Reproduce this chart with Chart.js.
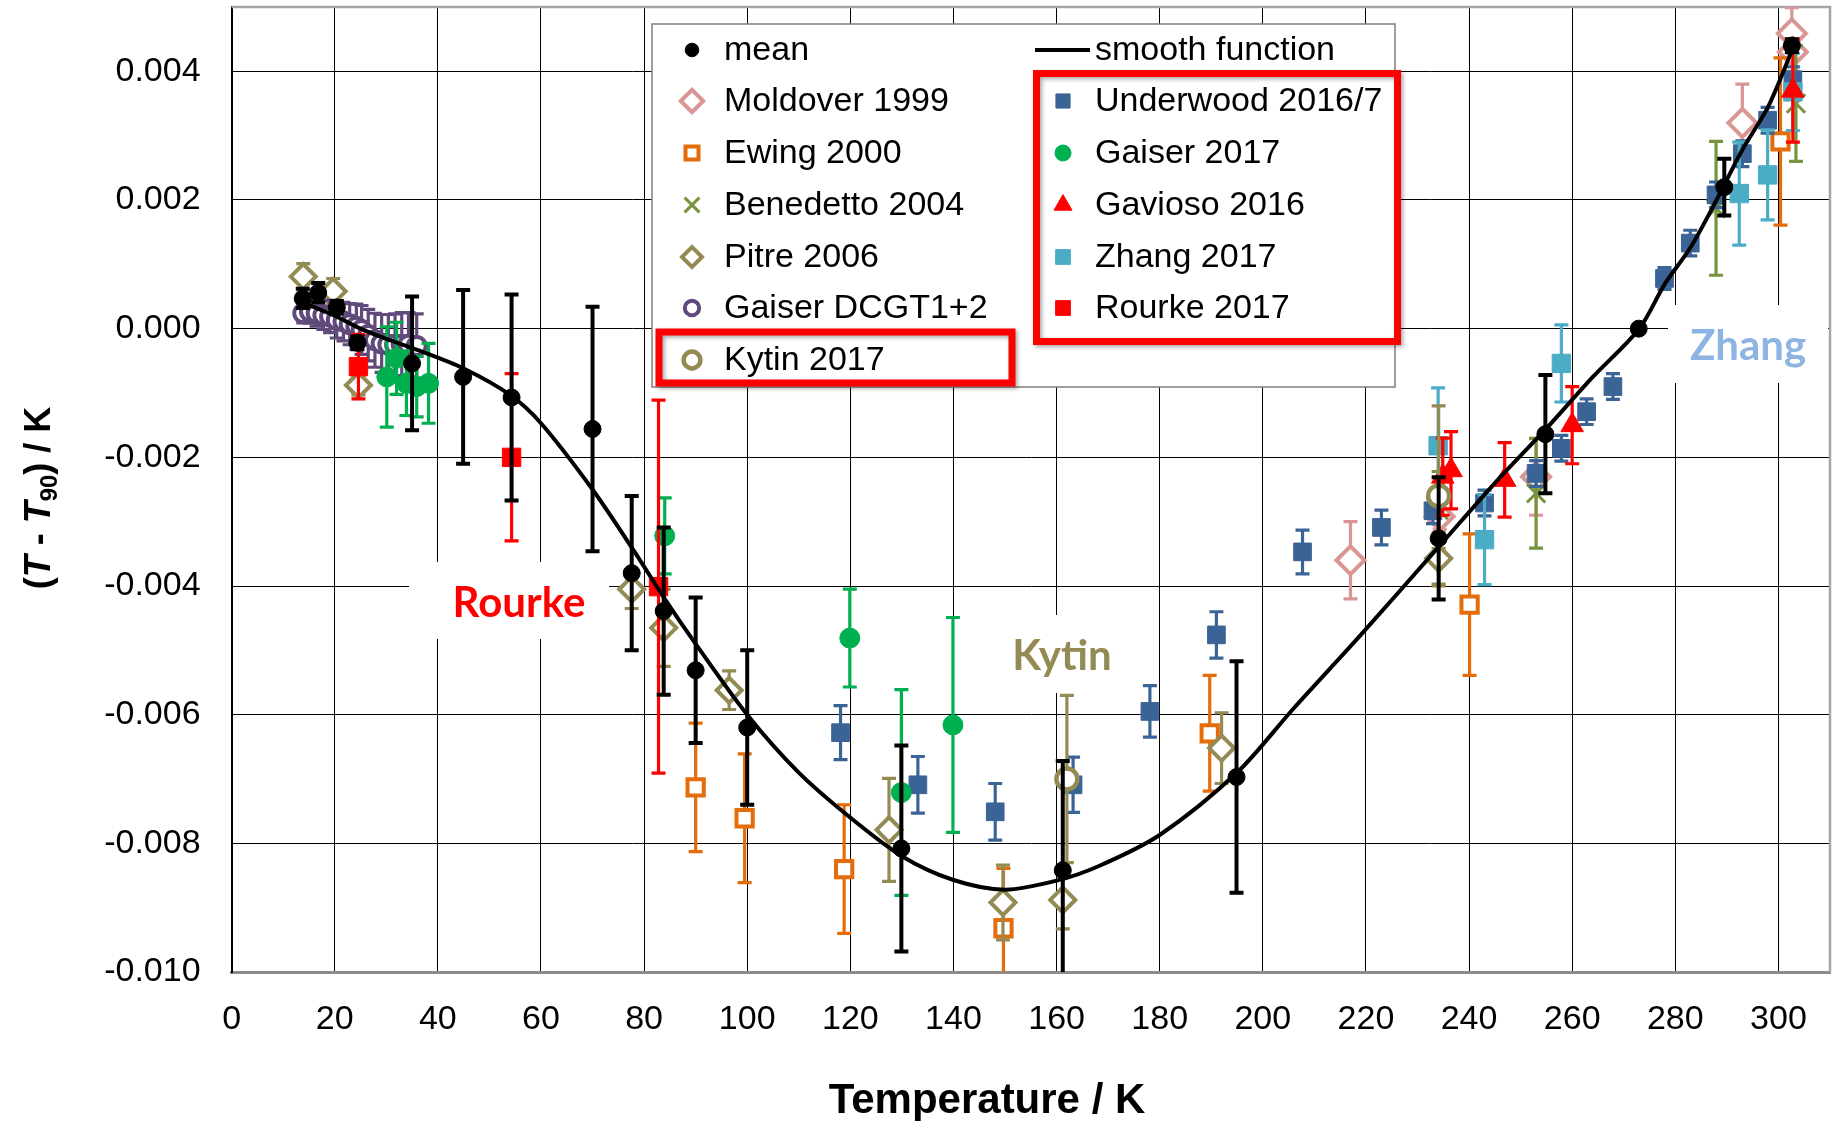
<!DOCTYPE html>
<html lang="en">
<head>
<meta charset="UTF-8">
<title>T - T90 comparison</title>
<script src="https://cdn.jsdelivr.net/npm/chart.js"></script>
<style>
  html, body { margin: 0; padding: 0; background: #fff; }
  #wrap { width: 1834px; height: 1121px; position: relative; }
</style>
</head>
<body>
<div id="wrap"><canvas id="plot"></canvas></div>
<script>
const FONT = '"Liberation Sans", Arial, sans-serif';

// axis ticks
const xTicks = [0, 20, 40, 60, 80, 100, 120, 140, 160, 180, 200, 220, 240, 260, 280, 300];
const yTicks = [-0.010, -0.008, -0.006, -0.004, -0.002, 0.000, 0.002, 0.004];

// mean
const meanT   = [13.8, 16.8, 20.4, 24.4, 35.0, 44.9, 54.3, 70.0, 77.6, 83.8, 90.0, 100.0, 129.9, 161.2, 194.9, 234.1, 254.8, 272.9, 289.5, 302.6];
const meanDev = [0.00047, 0.00056, 0.00033, -0.00022, -0.00054, -0.00075, -0.00107, -0.00156, -0.0038, -0.00439, -0.00531, -0.0062, -0.00808, -0.00842, -0.00697, -0.00326, -0.00164, 0.0, 0.0022, 0.0044];
const meanErr = [0.00015, 0.00015, 0.0001, 0.0001, 0.00104, 0.00135, 0.0016, 0.0019, 0.0012, 0.0013, 0.00113, 0.0012, 0.0016, 0.0017, 0.0018, 0.00095, 0.00092, 0, 0.00044, 0.0001];

// smooth function
const smoothT   = [14, 20, 25, 30, 36, 45, 54, 60, 70, 78, 84, 90, 100, 110, 120, 130, 140, 150, 160, 168, 180, 195, 206, 219, 234, 245, 255, 264, 273, 278, 283, 288, 293, 298, 303];
const smoothDev = [0.0004, 0.0002, 0.0, -0.00016, -0.00033, -0.00062, -0.00103, -0.00147, -0.0025, -0.00345, -0.0042, -0.0049, -0.006, -0.0069, -0.0076, -0.0082, -0.00857, -0.00872, -0.00858, -0.00836, -0.00787, -0.0069, -0.0059, -0.00476, -0.0034, -0.0024, -0.00155, -0.00075, 0.0, 0.0007, 0.00127, 0.002, 0.00278, 0.00345, 0.0044];

const moldoverT   = [217.0, 234.3, 253.0, 293.0, 302.6, 302.8];
const moldoverDev = [-0.0036, -0.00292, -0.0023, 0.0032, 0.00459, 0.0043];
const moldoverErr = [0.0006, 0.0002, 0.0006, 0.0006, 0.0004, 0.0003];

const ewingT   = [90.0, 99.5, 118.8, 149.7, 189.7, 240.1, 300.4];
const ewingDev = [-0.00713, -0.00761, -0.0084, -0.00932, -0.00629, -0.00429, 0.00291];
const ewingErr = [0.001, 0.001, 0.001, 0.00093, 0.0009, 0.0011, 0.0013];

const benedettoT   = [234.1, 253.0, 287.9, 303.4];
const benedettoDev = [-0.00282, -0.00256, 0.00187, 0.0035];
const benedettoErr = [0.0006, 0.00085, 0.00104, 0.0009];

const pitreT   = [13.9, 19.7, 24.6, 77.6, 83.8, 96.5, 127.5, 149.6, 161.2, 192.0, 234.1];
const pitreDev = [0.00081, 0.00058, -0.00088, -0.00405, -0.00465, -0.00562, -0.00779, -0.00892, -0.00888, -0.00652, -0.00357];
const pitreErr = [0.0002, 0.0002, 0.00015, 0.0003, 0.0006, 0.0003, 0.0008, 0.00058, 0.00045, 0.00055, 0.0004];

const dcgtT   = [13.9, 15.2, 16.5, 17.8, 19.1, 20.4, 21.7, 22.9, 24.2, 25.2, 26.5, 27.8, 29.1, 30.4, 31.7, 33.0, 34.3, 35.9];
const dcgtDev = [0.00024, 0.000265, 0.00024, 0.00021, 0.00019, 0.000135, 0.00011, 0.00007, 0.00003, -0.00002, -0.0001, -0.00018, -0.00023, -0.00025, -0.00025, -0.00025, -0.00025, -0.00027];
const dcgtErr = [0.00015, 0.00018, 0.0002, 0.00022, 0.00025, 0.00028, 0.0003, 0.00032, 0.00035, 0.00038, 0.0004, 0.00042, 0.00045, 0.00047, 0.00048, 0.0005, 0.0005, 0.0005];

const kytinT   = [162.0, 234.1];
const kytinDev = [-0.007, -0.0026];
const kytinErr = [0.0013, 0.0014];

const underwoodT   = [118.1, 133.1, 148.1, 163.2, 178.1, 191.0, 207.7, 223.0, 233.0, 243.0, 253.0, 257.9, 262.8, 267.9, 277.9, 282.9, 287.9, 293.0, 297.9, 302.8];
const underwoodDev = [-0.00628, -0.00709, -0.00751, -0.00709, -0.00595, -0.00476, -0.00347, -0.00309, -0.00283, -0.00271, -0.00225, -0.00186, -0.00129, -0.0009, 0.00078, 0.00133, 0.00208, 0.00272, 0.00324, 0.00387];
const underwoodErr = [0.00042, 0.00044, 0.00044, 0.00043, 0.0004, 0.00036, 0.00034, 0.00027, 0.0002, 0.0002, 0.0002, 0.0002, 0.0002, 0.0002, 0.00017, 0.0002, 0.0002, 0.0002, 0.0002, 0.0002];

const gaiserT   = [30.1, 32.0, 33.9, 35.9, 38.2, 84.0, 119.9, 129.9, 139.9];
const gaiserDev = [-0.00075, -0.00046, -0.00085, -0.0009, -0.00085, -0.00322, -0.00481, -0.00721, -0.00616];
const gaiserErr = [0.00078, 0.00056, 0.0005, 0.00047, 0.00062, 0.00059, 0.00076, 0.0016, 0.00167];

const gaviosoT   = [234.9, 236.5, 246.9, 260.0, 302.8];
const gaviosoDev = [-0.0023, -0.0022, -0.00235, -0.0015, 0.0037];
const gaviosoErr = [0.0006, 0.0006, 0.00058, 0.0006, 0.0008];

const zhangT   = [234.0, 243.0, 257.9, 292.4, 297.9, 302.8];
const zhangDev = [-0.00182, -0.00328, -0.00054, 0.0021, 0.00239, 0.00368];
const zhangErr = [0.0009, 0.0007, 0.0006, 0.0008, 0.0007, 0.0006];

const rourkeT   = [24.6, 54.3, 82.8];
const rourkeDev = [-0.00059, -0.002, -0.00401];
const rourkeErr = [0.0005, 0.0013, 0.0029];

const legendLeft  = ['mean', 'Moldover 1999', 'Ewing 2000', 'Benedetto 2004', 'Pitre 2006', 'Gaiser DCGT1+2', 'Kytin 2017'];
const legendRight = ['smooth function', 'Underwood 2016/7', 'Gaiser 2017', 'Gavioso 2016', 'Zhang 2017', 'Rourke 2017'];

function pts(xs, ys) {
  return xs.map((x, i) => ({ x: x, y: ys[i] }));
}

function series(label, xs, ys, errs, color, style, radius, open, bw) {
  return {
    label: label,
    data: pts(xs, ys),
    err: errs,
    errColor: color,
    showLine: false,
    pointStyle: style,
    pointRadius: radius,
    pointBackgroundColor: open ? '#fff' : color,
    pointBorderColor: color,
    pointBorderWidth: bw,
    pointHoverRadius: radius
  };
}

const datasets = [
  series('mean', meanT, meanDev, meanErr, '#000', 'circle', 8.5, false, 1),
  {
    label: 'smooth function',
    data: pts(smoothT, smoothDev),
    showLine: true,
    borderColor: '#000',
    borderWidth: 4,
    pointRadius: 0,
    tension: 0.3
  },
  series('Kytin 2017', kytinT, kytinDev, kytinErr, '#948A54', 'circle', 10.5, true, 4.5),
  series('Rourke 2017', rourkeT, rourkeDev, rourkeErr, '#FF0000', 'rect', 13, false, 1),
  series('Gavioso 2016', gaviosoT, gaviosoDev, gaviosoErr, '#FF0000', 'triangle', 13, false, 1),
  series('Zhang 2017', zhangT, zhangDev, zhangErr, '#4BACC6', 'rect', 13, false, 1),
  series('Gaiser 2017', gaiserT, gaiserDev, gaiserErr, '#00B050', 'circle', 10, false, 1),
  series('Underwood 2016/7', underwoodT, underwoodDev, underwoodErr, '#3B6496', 'rect', 12.5, false, 1),
  series('Gaiser DCGT1+2', dcgtT, dcgtDev, dcgtErr, '#604A7B', 'circle', 9, true, 4),
  series('Pitre 2006', pitreT, pitreDev, pitreErr, '#948A54', 'rectRot', 12.5, true, 4),
  series('Benedetto 2004', benedettoT, benedettoDev, benedettoErr, '#77933C', 'crossRot', 13, false, 3),
  series('Ewing 2000', ewingT, ewingDev, ewingErr, '#E46C0A', 'rect', 11.5, true, 4),
  series('Moldover 1999', moldoverT, moldoverDev, moldoverErr, '#D99694', 'rectRot', 14, true, 4)
];

// vertical error bars, drawn just under each dataset's markers
const errorBars = {
  id: 'errorBars',
  beforeDatasetDraw(chart, args) {
    const ds = chart.data.datasets[args.index];
    if (!ds.err) return;
    const { ctx, chartArea: a, scales: { x, y } } = chart;
    ctx.save();
    ctx.beginPath();
    ctx.rect(a.left, a.top, a.right - a.left, a.bottom - a.top);
    ctx.clip();
    ctx.strokeStyle = ds.errColor;
    ctx.lineWidth = ds.label === 'mean' ? 4 : 3.2;
    const cap = 7;
    ds.data.forEach((p, i) => {
      const e = ds.err[i];
      if (!e) return;
      const px = x.getPixelForValue(p.x);
      const y1 = y.getPixelForValue(p.y + e);
      const y2 = y.getPixelForValue(p.y - e);
      ctx.beginPath();
      ctx.moveTo(px, y1); ctx.lineTo(px, y2);
      ctx.moveTo(px - cap, y1); ctx.lineTo(px + cap, y1);
      ctx.moveTo(px - cap, y2); ctx.lineTo(px + cap, y2);
      ctx.stroke();
    });
    ctx.restore();
  }
};

// frame, text boxes and axis titles
const decor = {
  id: 'decor',
  beforeDatasetsDraw(chart) {
    const { ctx, chartArea: a } = chart;
    ctx.save();
    ctx.strokeStyle = '#a6a6a6';
    ctx.lineWidth = 2.5;
    ctx.beginPath();
    ctx.moveTo(a.left, a.top); ctx.lineTo(a.right, a.top); ctx.lineTo(a.right, a.bottom);
    ctx.stroke();

    ctx.fillStyle = '#fff';
    ctx.fillRect(409, 562, 200, 77);
    ctx.fillRect(998, 615, 130, 78);
    ctx.fillRect(1668, 305, 160, 78);

    ctx.font = 'bold 42px Lato, "Open Sans", sans-serif';
    ctx.textAlign = 'center';
    ctx.textBaseline = 'alphabetic';
    ctx.fillStyle = '#FF0000';
    ctx.fillText('Rourke', 519, 617);
    ctx.fillStyle = '#948A54';
    ctx.fillText('Kytin', 1062, 670);
    ctx.fillStyle = '#8DB4E2';
    ctx.fillText('Zhang', 1748, 360);
    ctx.restore();
  },
  afterDraw(chart) {
    const ctx = chart.ctx;
    ctx.save();
    ctx.fillStyle = '#000';
    ctx.textBaseline = 'alphabetic';
    ctx.textAlign = 'center';
    ctx.font = 'bold 42px ' + FONT;
    ctx.fillText('Temperature / K', 987, 1113);

    ctx.translate(50, 498);
    ctx.rotate(-Math.PI / 2);
    const parts = [
      { t: '(', f: 'bold 36px ' + FONT, dy: 0 },
      { t: 'T', f: 'italic bold 36px ' + FONT, dy: 0 },
      { t: ' - ', f: 'bold 36px ' + FONT, dy: 0 },
      { t: 'T', f: 'italic bold 36px ' + FONT, dy: 0 },
      { t: '90', f: 'bold 24px ' + FONT, dy: 7 },
      { t: ') / K', f: 'bold 36px ' + FONT, dy: 0 }
    ];
    let total = 0;
    parts.forEach(p => { ctx.font = p.f; p.w = ctx.measureText(p.t).width; total += p.w; });
    let cx = -total / 2;
    ctx.textAlign = 'left';
    parts.forEach(p => { ctx.font = p.f; ctx.fillText(p.t, cx, p.dy); cx += p.w; });
    ctx.restore();
  }
};

// two-column legend with red highlight boxes
const boxLegend = {
  id: 'boxLegend',
  afterDatasetsDraw(chart) {
    const ctx = chart.ctx;
    const byLabel = {};
    chart.data.datasets.forEach(d => { byLabel[d.label] = d; });
    ctx.save();
    ctx.fillStyle = '#fff';
    ctx.fillRect(652, 24, 743, 363);
    ctx.strokeStyle = '#7f7f7f';
    ctx.lineWidth = 1.5;
    ctx.strokeRect(652, 24, 743, 363);

    const rowY = [50, 101, 153, 205, 257, 308, 360];
    ctx.font = '34px ' + FONT;
    ctx.textBaseline = 'middle';
    ctx.textAlign = 'left';

    function mark(d, x, y) {
      if (d.showLine) {
        ctx.strokeStyle = d.borderColor;
        ctx.lineWidth = d.borderWidth;
        ctx.beginPath(); ctx.moveTo(x - 28, y); ctx.lineTo(x + 27, y); ctx.stroke();
        return;
      }
      ctx.fillStyle = d.pointBackgroundColor;
      ctx.strokeStyle = d.pointBorderColor;
      ctx.lineWidth = d.pointBorderWidth;
      Chart.helpers.drawPoint(ctx, {
        pointStyle: d.pointStyle,
        radius: d.pointRadius * 0.8,
        rotation: 0,
        borderWidth: d.pointBorderWidth
      }, x, y);
    }

    legendLeft.forEach((lab, i) => {
      mark(byLabel[lab], 692, rowY[i]);
      ctx.fillStyle = '#000';
      ctx.fillText(lab, 724, rowY[i] + 1);
    });
    legendRight.forEach((lab, i) => {
      mark(byLabel[lab], 1063, rowY[i]);
      ctx.fillStyle = '#000';
      ctx.fillText(lab, 1095, rowY[i] + 1);
    });

    ctx.shadowColor = 'rgba(0,0,0,0.35)';
    ctx.shadowBlur = 4;
    ctx.shadowOffsetX = 2;
    ctx.shadowOffsetY = 2;
    ctx.strokeStyle = '#FF0000';
    ctx.lineWidth = 7;
    ctx.strokeRect(659, 332, 353, 51);
    ctx.strokeRect(1036.5, 73.5, 361, 268);
    ctx.restore();
  }
};

new Chart(document.getElementById('plot'), {
  type: 'scatter',
  data: { datasets: datasets },
  options: {
    responsive: true,
    maintainAspectRatio: false,
    animation: false,
    events: [],
    layout: { autoPadding: false, padding: { top: 7, right: 4, left: 0, bottom: 0 } },
    plugins: {
      legend: { display: false },
      tooltip: { enabled: false }
    },
    scales: {
      x: {
        type: 'linear',
        min: 0,
        max: 310,
        afterBuildTicks: s => { s.ticks = xTicks.map(v => ({ value: v })); },
        afterFit: s => { s.height = 149; s.paddingLeft = 0; s.paddingRight = 0; },
        grid: { color: '#000', lineWidth: 1, drawTicks: false },
        border: { color: '#8c8c8c', width: 3 },
        ticks: { color: '#000', padding: 27, font: { family: FONT, size: 34 }, callback: v => String(v) }
      },
      y: {
        type: 'linear',
        min: -0.010,
        max: 0.005,
        afterBuildTicks: s => { s.ticks = yTicks.map(v => ({ value: v })); },
        afterFit: s => { s.width = 231.6; s.paddingTop = 0; s.paddingBottom = 0; },
        grid: { color: '#000', lineWidth: 1, drawTicks: false },
        border: { color: '#000', width: 2 },
        ticks: { color: '#000', padding: 31, font: { family: FONT, size: 34 }, callback: v => v.toFixed(3) }
      }
    }
  },
  plugins: [errorBars, decor, boxLegend]
});
</script>
</body>
</html>
